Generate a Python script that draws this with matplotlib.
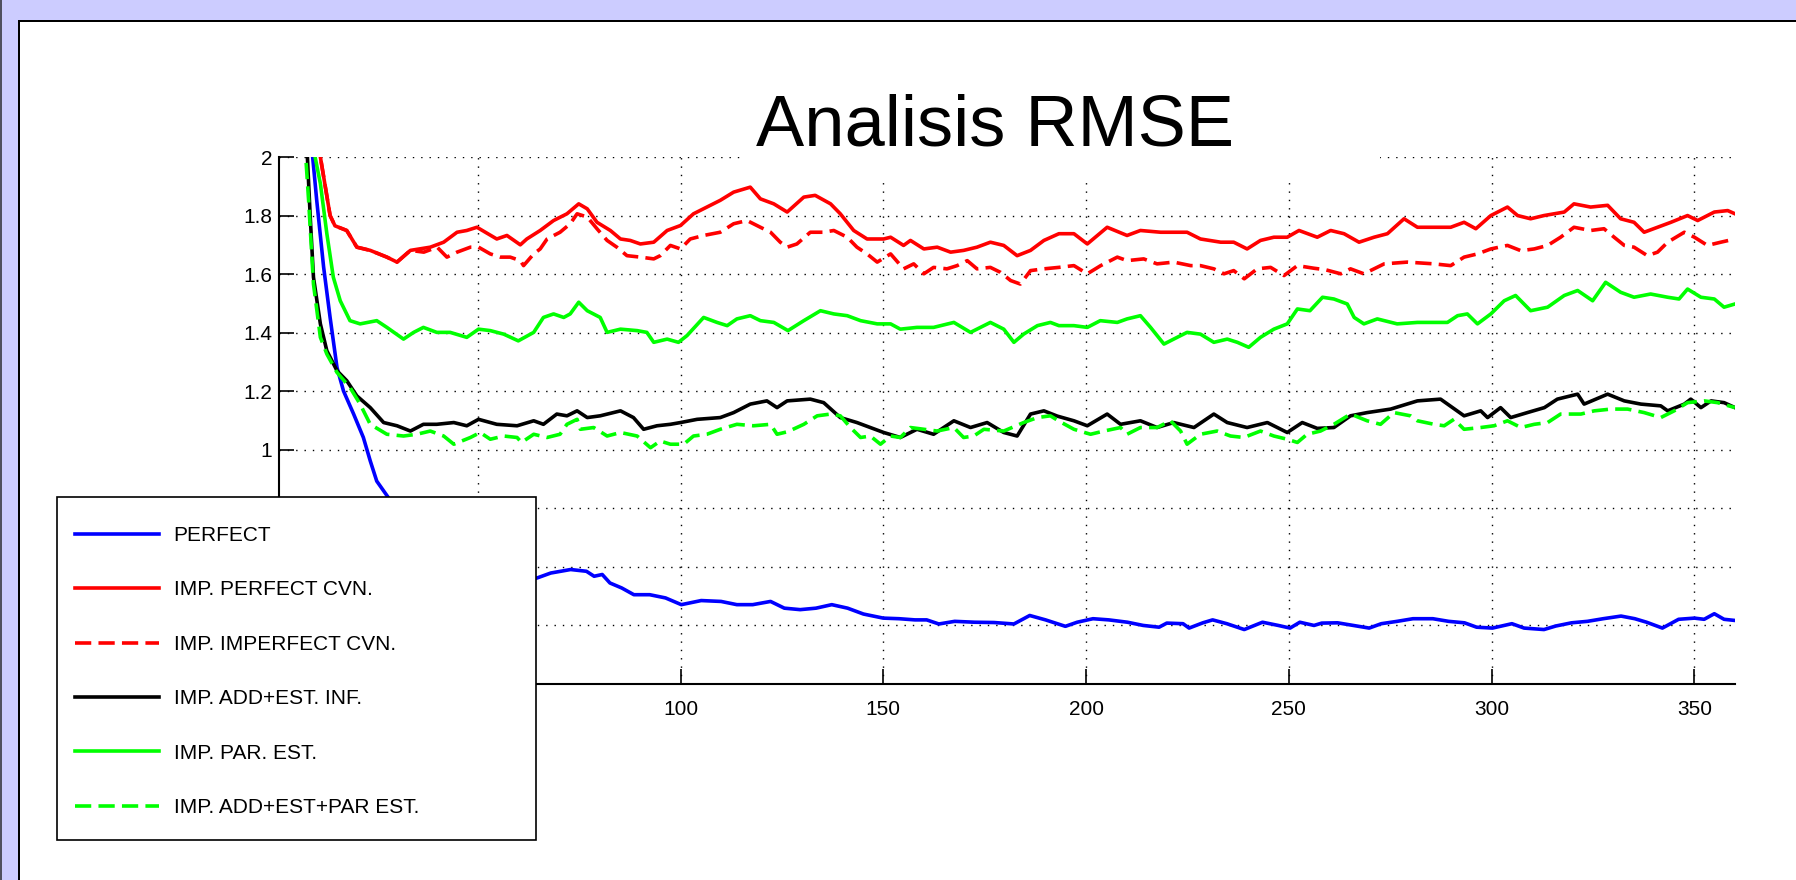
import matplotlib
matplotlib.use("Agg")
import matplotlib.pyplot as plt
from matplotlib.patches import Rectangle
from matplotlib.ticker import FuncFormatter

plt.rcParams["font.family"] = ["Liberation Sans", "DejaVu Sans"]

W, H, DPI = 1796, 880, 100

# ---------------- data ----------------
perfect_x = [1, 5, 9.3, 10.3, 12, 13.6, 15.3, 16.9, 19.4, 21.8, 23.5, 25.1, 28, 32, 36, 42, 50, 58,
             64.6, 68, 72.9, 76.8, 78.7, 80.7, 82.6, 85.5, 88.5, 92.4, 96.3, 100.2, 105.1, 110, 113.9,
             117.8, 122.2, 125.6, 129.5, 133.4, 137.3, 141.2, 145.1, 150, 153.9, 157.8, 160.7, 163.7,
             167.6, 172.5, 177.3, 182.2, 186.1, 190, 194.9, 197.8, 201.7, 205.6, 210.2, 214.1, 218,
             219.9, 223.9, 225.4, 228.8, 231.2, 234.7, 239, 243.5, 247.4, 250.3, 252.7, 256.2, 258.1,
             262, 265.9, 269.8, 272.8, 276.7, 280.6, 285.5, 289.4, 293.3, 296.3, 300.2, 305, 308,
             312.9, 315.8, 319.7, 323.6, 327.5, 331.9, 335.3, 338.2, 342.1, 346.1, 350, 352.4, 354.9,
             357.3, 360]
perfect_y = [3.2, 2.6, 2.0, 1.852, 1.624, 1.452, 1.281, 1.201, 1.122, 1.042, 0.962, 0.893, 0.836, 0.72,
             0.64, 0.58, 0.55, 0.55, 0.562, 0.579, 0.591, 0.585, 0.568, 0.574, 0.545, 0.528, 0.505,
             0.505, 0.494, 0.471, 0.485, 0.482, 0.471, 0.471, 0.482, 0.459, 0.454, 0.459, 0.471, 0.459,
             0.439, 0.425, 0.423, 0.419, 0.419, 0.405, 0.414, 0.411, 0.410, 0.405, 0.434, 0.419, 0.397,
             0.411, 0.423, 0.419, 0.411, 0.400, 0.394, 0.408, 0.406, 0.391, 0.409, 0.419, 0.406, 0.386,
             0.411, 0.400, 0.391, 0.411, 0.400, 0.408, 0.409, 0.400, 0.391, 0.406, 0.414, 0.423, 0.423,
             0.414, 0.409, 0.394, 0.391, 0.406, 0.391, 0.386, 0.398, 0.409, 0.414, 0.423, 0.432, 0.423,
             0.411, 0.391, 0.421, 0.425, 0.421, 0.440, 0.421, 0.417]

perf_cvn_x = [1, 5, 8, 11.2, 13.6, 14.8, 17.7, 20.2, 23.5, 27.6, 30.1, 33.4, 38.3, 41.6, 44.9, 47.3,
              49.8, 54.7, 57.2, 60.5, 62.1, 65.4, 68.7, 72, 74.9, 77, 79.4, 82.7, 85.2, 87.6, 90.1,
              93.4, 96.7, 100, 103.2, 106.5, 109.8, 113.1, 117.2, 119.7, 123, 126.3, 130.4, 133.2, 137,
              139.4, 142.7, 146, 150.1, 151.8, 155, 156.7, 160, 163.3, 166.6, 169.8, 173.1, 176.4,
              179.7, 183, 186.3, 189.6, 193.3, 197, 200.3, 205.2, 210.1, 213.4, 218.4, 224.9, 228.2,
              233.2, 236.4, 239.7, 243, 246.3, 249.6, 252.5, 257, 260.3, 263.6, 267.3, 271, 274.3,
              278.4, 281.7, 285.8, 289.9, 293.2, 296.1, 299.8, 303.9, 306.4, 309.6, 312.9, 317.9,
              320.3, 324.4, 328.6, 331.8, 335.1, 337.6, 340.9, 344.2, 348.3, 350.8, 354.9, 358.2, 360]
perf_cvn_y = [2.9, 2.55, 2.27, 2.0, 1.80, 1.765, 1.749, 1.692, 1.681, 1.658, 1.641, 1.681, 1.692, 1.709,
              1.743, 1.749, 1.760, 1.720, 1.732, 1.700, 1.720, 1.749, 1.783, 1.806, 1.840, 1.823, 1.777,
              1.749, 1.720, 1.715, 1.703, 1.709, 1.749, 1.766, 1.806, 1.829, 1.852, 1.880, 1.897, 1.857,
              1.840, 1.812, 1.863, 1.869, 1.840, 1.806, 1.749, 1.720, 1.720, 1.726, 1.698, 1.715, 1.686,
              1.692, 1.675, 1.681, 1.692, 1.709, 1.698, 1.663, 1.681, 1.715, 1.738, 1.738, 1.703, 1.760,
              1.732, 1.749, 1.743, 1.743, 1.720, 1.709, 1.709, 1.686, 1.715, 1.726, 1.726, 1.749, 1.726,
              1.749, 1.738, 1.709, 1.726, 1.738, 1.789, 1.760, 1.760, 1.760, 1.777, 1.755, 1.800, 1.829,
              1.800, 1.789, 1.800, 1.812, 1.840, 1.829, 1.835, 1.789, 1.777, 1.743, 1.760, 1.777, 1.800,
              1.783, 1.812, 1.817, 1.806]

imperf_cvn_x = [1, 5, 8, 11.2, 13.6, 14.8, 17.7, 20.2, 23.5, 27.6, 30.1, 33.4, 36.7, 40, 42.4, 44.9,
                48.2, 50.2, 53.1, 55.6, 58, 60.5, 61.3, 63.8, 65.4, 67.1, 70.3, 72.8, 74.5, 77, 79.4,
                81.9, 84.3, 86.8, 90.1, 93.4, 95, 97.5, 100, 102.4, 105.7, 109.8, 113.1, 116.4, 119.7,
                122.2, 124.6, 126.3, 128.7, 132, 135.3, 137.8, 141.1, 143.5, 146, 148.5, 151.8, 155,
                157.5, 160, 162.4, 165.7, 168.2, 170.7, 173.1, 176.4, 178.9, 181.4, 183.8, 186.3, 189.6,
                193.3, 197, 200.3, 203.6, 207.7, 210.1, 214.2, 217.5, 221.6, 225.8, 228.2, 231.5, 234,
                236.4, 239, 242.2, 245.5, 248.8, 252.1, 256.2, 259, 262.8, 265.2, 268.5, 273.5, 279.2,
                285.8, 289.9, 293.2, 296.5, 299.8, 303.9, 307.2, 310.5, 313.8, 317, 320.3, 324.4, 327.7,
                330.2, 332.7, 335.1, 338.4, 340.9, 343.4, 347.5, 350, 353.2, 356.5, 360]
imperf_cvn_y = [2.9, 2.55, 2.27, 2.0, 1.80, 1.765, 1.749, 1.692, 1.681, 1.658, 1.641, 1.681, 1.675, 1.692,
                1.658, 1.675, 1.692, 1.692, 1.669, 1.658, 1.658, 1.646, 1.629, 1.669, 1.686, 1.720, 1.743,
                1.772, 1.806, 1.795, 1.755, 1.715, 1.692, 1.663, 1.658, 1.652, 1.663, 1.698, 1.686, 1.720,
                1.732, 1.743, 1.772, 1.783, 1.760, 1.743, 1.709, 1.692, 1.703, 1.743, 1.743, 1.749, 1.726,
                1.692, 1.669, 1.641, 1.669, 1.618, 1.635, 1.601, 1.623, 1.618, 1.629, 1.646, 1.618, 1.623,
                1.606, 1.578, 1.566, 1.612, 1.618, 1.623, 1.629, 1.601, 1.629, 1.658, 1.646, 1.652, 1.635,
                1.641, 1.629, 1.629, 1.618, 1.601, 1.612, 1.584, 1.618, 1.623, 1.595, 1.629, 1.620, 1.615,
                1.601, 1.618, 1.601, 1.635, 1.641, 1.635, 1.629, 1.658, 1.669, 1.686, 1.698, 1.680, 1.686,
                1.698, 1.726, 1.760, 1.749, 1.755, 1.726, 1.698, 1.692, 1.663, 1.675, 1.709, 1.743, 1.726,
                1.698, 1.709, 1.720]

add_est_x = [1, 5, 8, 8.7, 9.5, 11.2, 12.8, 15.3, 17.7, 20.2, 23.5, 26.8, 30.1, 33.4, 36.6, 39.9, 44.1,
             47.3, 50.2, 54.7, 59.7, 63.8, 66.2, 69.5, 72, 74.5, 77, 80.2, 85.2, 88.4, 90.9, 94.2, 97.5,
             100, 104.1, 109.8, 113.1, 117.2, 121.3, 123.8, 126.3, 132, 135.3, 139.4, 143.5, 146.8,
             150.1, 154.2, 158.3, 162.4, 167.4, 171.5, 175.6, 179.7, 183, 186.3, 189.6, 192.9, 197,
             200.3, 205.2, 208.5, 213.4, 217.5, 221.6, 226.6, 231.5, 234.8, 239.7, 244.7, 249.6, 253.3,
             257, 261.1, 265.2, 269.3, 275.1, 281.7, 287.4, 293.2, 297.3, 299, 302.2, 304.7, 308.8, 313,
             316.2, 321.2, 322.8, 328.6, 332.7, 336.8, 341.7, 343.4, 347.5, 349.1, 351.6, 354.1, 357.3,
             360]
add_est_y = [3.5, 2.6, 2.0, 1.795, 1.589, 1.430, 1.338, 1.270, 1.236, 1.184, 1.144, 1.093, 1.082, 1.064,
             1.087, 1.087, 1.093, 1.082, 1.104, 1.087, 1.082, 1.099, 1.087, 1.122, 1.116, 1.133, 1.110,
             1.116, 1.133, 1.110, 1.070, 1.082, 1.087, 1.093, 1.104, 1.110, 1.127, 1.156, 1.167, 1.144,
             1.167, 1.173, 1.161, 1.110, 1.093, 1.076, 1.059, 1.042, 1.070, 1.053, 1.099, 1.076, 1.093,
             1.059, 1.047, 1.122, 1.133, 1.115, 1.099, 1.082, 1.122, 1.087, 1.099, 1.076, 1.093, 1.076,
             1.122, 1.093, 1.076, 1.093, 1.059, 1.093, 1.073, 1.076, 1.116, 1.127, 1.139, 1.167, 1.173,
             1.116, 1.133, 1.110, 1.144, 1.110, 1.127, 1.144, 1.173, 1.190, 1.156, 1.190, 1.167, 1.156,
             1.150, 1.133, 1.156, 1.173, 1.144, 1.167, 1.161, 1.144]

par_est_x = [1, 5, 8, 9.9, 11.2, 12.8, 14.4, 16.1, 18.5, 21, 25.1, 27.6, 31.7, 34.2, 36.6, 39.9, 43.2,
             47.3, 50.2, 53.1, 56.4, 60, 63.8, 66.2, 68.7, 71.2, 72.8, 74.9, 77, 80.2, 81.9, 85.2, 89.3,
             91.7, 93.4, 96.7, 99.5, 101.6, 105.7, 109, 111.5, 113.9, 117.2, 119.7, 123, 126.5, 130.4,
             134.5, 137.8, 141.1, 144.4, 148.5, 151.8, 154.2, 158.3, 162.4, 167.4, 171.5, 176.4, 179.7,
             182.2, 184.6, 188, 191.2, 193.3, 197, 200.3, 203.5, 207.7, 210.1, 213.4, 215.9, 219.2,
             221.6, 224.9, 228.2, 231.5, 234.8, 237.3, 240.1, 243, 246.3, 249.6, 252.1, 255.2, 258.3,
             261.1, 264.4, 266.1, 268.5, 271.8, 276.7, 281.7, 285.8, 289.1, 291.6, 294, 296.5, 299.8,
             303.1, 305.9, 309.6, 313.8, 317.9, 321.2, 324.9, 328.1, 331.8, 335.1, 339.2, 343.4, 346.2,
             348.3, 351.6, 354.9, 357.3, 360]
par_est_y = [3.0, 2.5, 2.2, 2.0, 1.909, 1.738, 1.589, 1.509, 1.441, 1.430, 1.441, 1.418, 1.378, 1.401,
             1.418, 1.401, 1.401, 1.384, 1.412, 1.407, 1.395, 1.372, 1.401, 1.452, 1.464, 1.452, 1.464,
             1.504, 1.475, 1.452, 1.401, 1.412, 1.407, 1.401, 1.367, 1.378, 1.367, 1.390, 1.452, 1.435,
             1.424, 1.447, 1.458, 1.441, 1.435, 1.407, 1.441, 1.475, 1.464, 1.458, 1.441, 1.430, 1.430,
             1.412, 1.418, 1.418, 1.435, 1.401, 1.435, 1.412, 1.367, 1.395, 1.424, 1.435, 1.424, 1.424,
             1.418, 1.441, 1.435, 1.447, 1.458, 1.418, 1.361, 1.378, 1.401, 1.395, 1.367, 1.378, 1.367,
             1.350, 1.384, 1.412, 1.430, 1.481, 1.475, 1.521, 1.515, 1.498, 1.452, 1.430, 1.447, 1.430,
             1.435, 1.435, 1.435, 1.458, 1.464, 1.430, 1.464, 1.509, 1.527, 1.475, 1.487, 1.527, 1.544,
             1.509, 1.572, 1.538, 1.521, 1.532, 1.521, 1.515, 1.549, 1.521, 1.515, 1.487, 1.498]

add_par_x = [1, 5, 7.6, 8.3, 9.5, 11.2, 12.8, 15.3, 18.5, 21, 23.5, 27.6, 31.7, 35, 38.3, 41.6, 44.1,
             48.2, 50.6, 53.1, 56.4, 59.7, 60.8, 63.8, 67.1, 70.3, 72, 74.5, 75.3, 78.6, 81.9, 85.2,
             89.3, 92.6, 95, 97.5, 100.8, 103.2, 106.5, 109.8, 113.9, 118, 122.2, 123.8, 126.5, 130.4,
             133.7, 137, 139.4, 141.9, 144.4, 146.8, 149.3, 151.8, 154.2, 156.7, 160, 163.3, 167.4,
             169.8, 172.3, 174.8, 179.7, 184.6, 188, 191.2, 193.3, 197, 201.1, 204.4, 208.5, 210.1,
             213.4, 217.5, 220.8, 223.3, 224.9, 228.2, 232.3, 235.6, 238.9, 243, 246.3, 249.6, 252.1,
             254.5, 257.8, 261.1, 265.2, 269.3, 272.6, 275.9, 280, 281.7, 285.8, 288.3, 290.7, 293.2,
             297.3, 300.6, 303.9, 307.2, 310.5, 313.8, 317, 322, 325.3, 329.4, 333.5, 337.6, 341.7, 345,
             348.3, 352.4, 355.7, 360]
add_par_y = [3.4, 2.5, 2.0, 1.852, 1.566, 1.384, 1.327, 1.264, 1.213, 1.156, 1.087, 1.053, 1.047, 1.053,
             1.064, 1.047, 1.019, 1.042, 1.059, 1.036, 1.047, 1.042, 1.025, 1.053, 1.042, 1.053, 1.087,
             1.104, 1.070, 1.076, 1.047, 1.059, 1.047, 1.007, 1.030, 1.019, 1.019, 1.047, 1.053, 1.070,
             1.087, 1.082, 1.087, 1.053, 1.062, 1.087, 1.116, 1.122, 1.116, 1.076, 1.042, 1.047, 1.019,
             1.047, 1.042, 1.076, 1.070, 1.064, 1.076, 1.042, 1.047, 1.070, 1.064, 1.093, 1.110, 1.116,
             1.098, 1.070, 1.053, 1.064, 1.076, 1.053, 1.076, 1.076, 1.099, 1.064, 1.019, 1.053, 1.064,
             1.047, 1.042, 1.064, 1.047, 1.036, 1.025, 1.053, 1.064, 1.087, 1.122, 1.099, 1.087, 1.127,
             1.116, 1.099, 1.087, 1.082, 1.104, 1.070, 1.076, 1.082, 1.099, 1.076, 1.087, 1.093, 1.122,
             1.122, 1.133, 1.139, 1.139, 1.127, 1.110, 1.133, 1.161, 1.167, 1.161, 1.144]

labels = ["PERFECT", "IMP. PERFECT CVN.", "IMP. IMPERFECT CVN.", "IMP. ADD+EST. INF.",
          "IMP. PAR. EST.", "IMP. ADD+EST+PAR EST."]
x_ticks = [50, 100, 150, 200, 250, 300, 350]
y_ticks = [0.2, 0.4, 0.6, 0.8, 1.0, 1.2, 1.4, 1.6, 1.8, 2.0]
title = "Analisis RMSE"

# tick values whose labels sit underneath the legend box
x_hidden = [50]
y_hidden = [0.2, 0.4, 0.6, 0.8]

# ---------------- figure ----------------
fig = plt.figure(figsize=(W / DPI, H / DPI), dpi=DPI, facecolor="white")


def px_box(x0, y0, x1, y1):
    """(left, bottom, width, height) in figure fractions from top-left pixel bounds."""
    return (x0 / W, 1 - y1 / H), (x1 - x0) / W, (y1 - y0) / H


def px_rect(x0, y0, x1, y1, color, z):
    xy, w, h = px_box(x0, y0, x1, y1)
    fig.add_artist(Rectangle(xy, w, h, transform=fig.transFigure, facecolor=color,
                             edgecolor="none", zorder=z))


# slide frame
px_rect(0, 0, W, 20, "#ccccff", 1)
px_rect(0, 0, 18, H, "#ccccff", 1)
px_rect(0, 0, 2, H, "#505060", 2)
px_rect(18, 20, W, 22, "black", 2)
px_rect(18, 20, 20, H, "black", 2)

ax = fig.add_axes([279 / W, 1 - 684 / H, (1735 - 279) / W, (684 - 157) / H])

LW = 2.6
DASH = (4.5, 2.0)
series = [
    (perfect_x, perfect_y, "#0000ff", None),
    (perf_cvn_x, perf_cvn_y, "#ff0000", None),
    (imperf_cvn_x, imperf_cvn_y, "#ff0000", DASH),
    (add_est_x, add_est_y, "black", None),
    (par_est_x, par_est_y, "#00ff00", None),
    (add_par_x, add_par_y, "#00ff00", DASH),
]
for (xs, ys, col, dash), lab in zip(series, labels):
    line, = ax.plot(xs, ys, color=col, lw=LW, label=lab)
    if dash is not None:
        line.set_dashes(dash)

ax.set_xlim(1, 360)
ax.set_ylim(0.2, 2.0)
ax.set_xticks(x_ticks)
ax.set_yticks(y_ticks)
ax.xaxis.set_major_formatter(FuncFormatter(
    lambda v, p: "" if any(abs(v - h) < 1e-6 for h in x_hidden) else f"{v:g}"))
ax.yaxis.set_major_formatter(FuncFormatter(
    lambda v, p: "" if any(abs(v - h) < 1e-6 for h in y_hidden) else f"{round(v, 2):g}"))

ax.set_axisbelow(True)
ax.grid(True, color="black", linestyle=(0, (1, 5)), linewidth=1.0)

for s in ("top", "right"):
    ax.spines[s].set_visible(False)
for s in ("left", "bottom"):
    ax.spines[s].set_linewidth(1.5)
    ax.spines[s].set_color("black")

ax.tick_params(direction="in", length=11, width=1.2, labelsize=15, colors="black")
ax.tick_params(axis="x", pad=11.5)
ax.tick_params(axis="y", pad=5)

# legend box: white panel with black border, entries placed inside it
xy, bw, bh = px_box(57, 497, 536, 840)
ax.add_patch(Rectangle(xy, bw, bh, transform=fig.transFigure, facecolor="white",
                       edgecolor="black", linewidth=1.2, clip_on=False, zorder=4.8))
leg = ax.legend(loc="upper left", bbox_to_anchor=(74.5 / W, 1 - 526 / H),
                bbox_transform=fig.transFigure, borderaxespad=0, borderpad=0,
                fontsize=15, handlelength=4.06, handletextpad=0.7, labelspacing=1.7,
                frameon=False)
leg.set_zorder(5)

# white title box over the plot top, then the title itself
px_rect(742, 22, 1380, 180, "white", 5)
fig.text(995 / W, 1 - 145 / H, title, ha="center", va="baseline", fontsize=52,
         color="black", zorder=6)

fig.savefig("out.png", dpi=DPI, facecolor="white")
